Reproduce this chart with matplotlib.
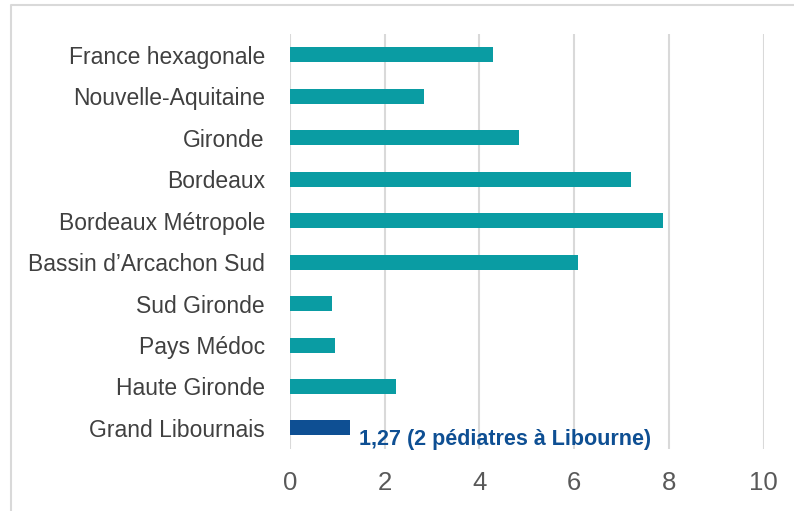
import matplotlib.pyplot as plt
from matplotlib.lines import Line2D

plt.rcParams['font.family'] = ['Liberation Sans', 'DejaVu Sans']

territoires = ['France hexagonale', 'Nouvelle-Aquitaine', 'Gironde', 'Bordeaux',
               'Bordeaux Métropole', "Bassin d\u2019Arcachon Sud", 'Sud Gironde',
               'Pays Médoc', 'Haute Gironde', 'Grand Libournais']
densite = [4.28, 2.83, 4.83, 7.19, 7.87, 6.09, 0.90, 0.96, 2.23, 1.27]
couleurs = ['#0A9CA3'] * 9 + ['#0E4F93']
annotation = '1,27 (2 pédiatres à Libourne)'
xticks = [0, 2, 4, 6, 8, 10]

fig = plt.figure(figsize=(7.94, 5.11), dpi=100)
ax = fig.add_axes([0.365, 0.122, 0.597, 0.811])

pos = list(range(len(territoires)))
ax.barh(pos, densite, height=0.36, color=couleurs, zorder=3)
ax.set_ylim(len(territoires) - 0.5, -0.5)
ax.set_xlim(0, 10)
ax.set_xticks(xticks)
ax.set_xticklabels([str(t) for t in xticks], fontsize=18.5, color='#595959')
ax.set_yticks(pos)
ax.set_yticklabels(territoires, fontsize=16.5, color='#404040')
ax.tick_params(axis='both', length=0)
ax.tick_params(axis='y', pad=18)
ax.tick_params(axis='x', pad=16)
ax.grid(axis='x', color='#D9D9D9', linewidth=1.5, zorder=0)
for s in ['top', 'right', 'bottom', 'left']:
    ax.spines[s].set_visible(False)

ax.text(1.47, 9.27, annotation, fontsize=15.5, fontweight='bold',
        color='#0E4F93', va='center', ha='left', zorder=4)

# cadre (seuls les bords haut et gauche sont visibles)
fig.lines.append(Line2D([0.014, 0.014, 1.0], [0.0, 0.99, 0.99], transform=fig.transFigure,
                        color='#D9D9D9', linewidth=1.5))

fig.savefig('out.png', dpi=100)
